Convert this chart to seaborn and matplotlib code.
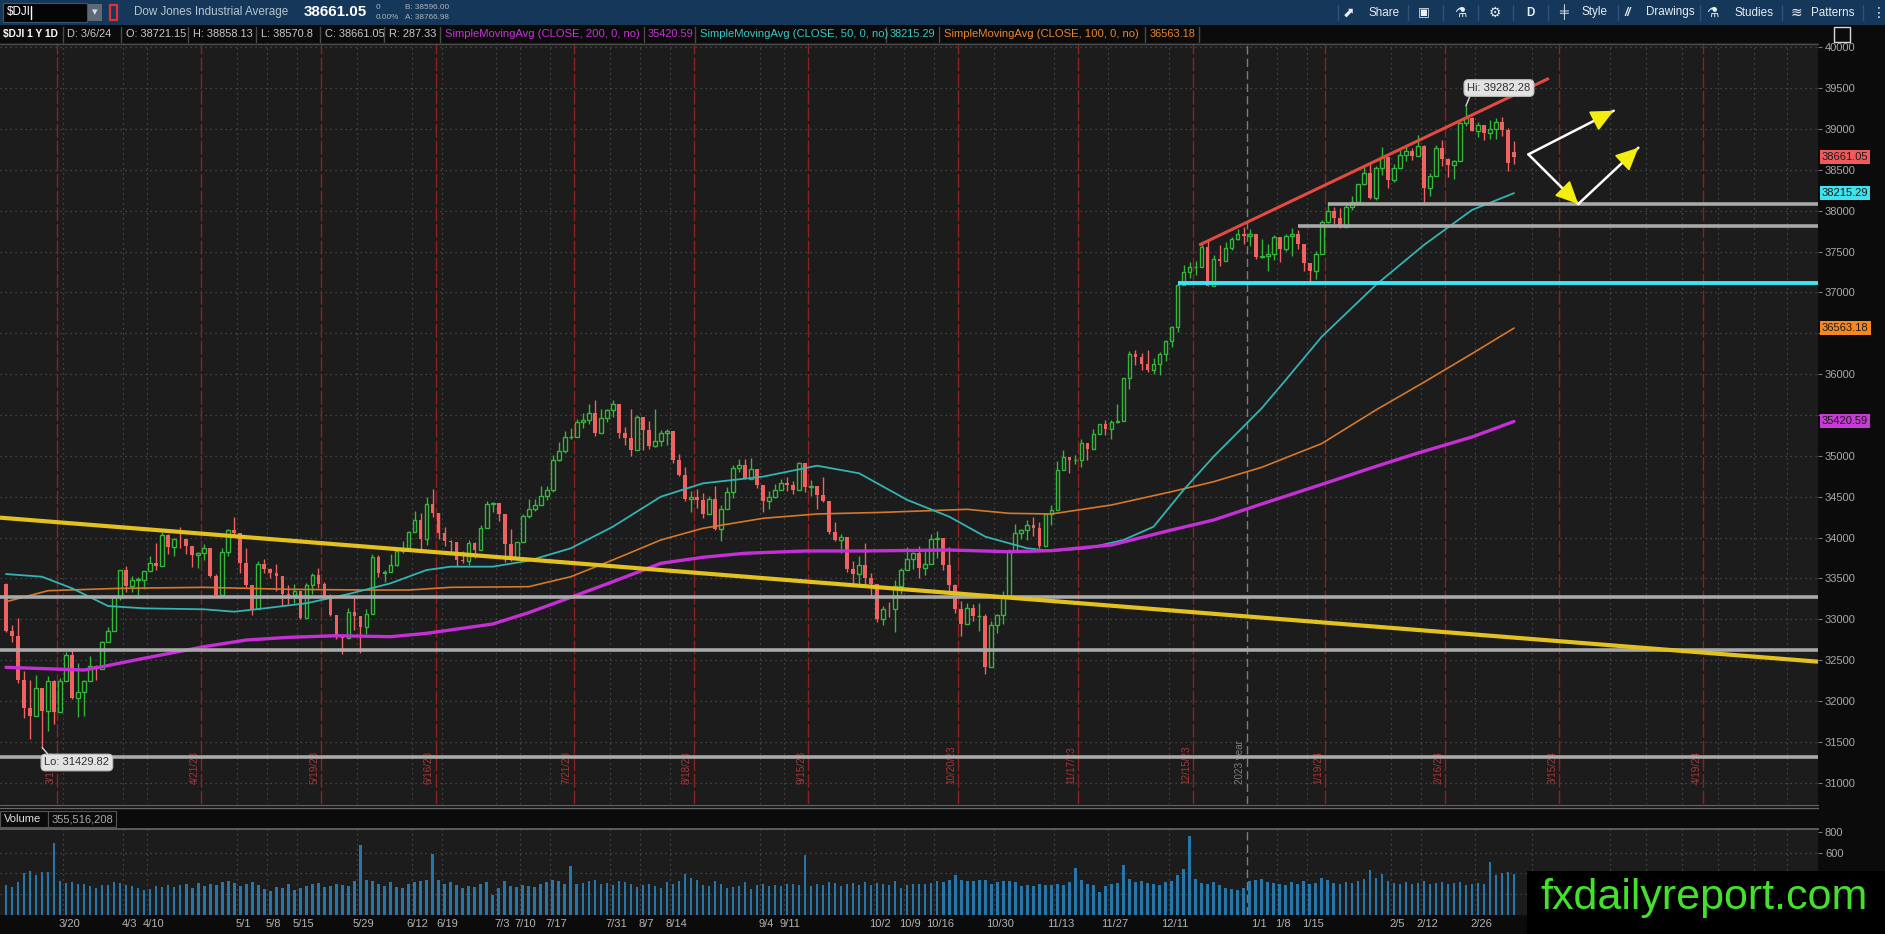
import matplotlib
matplotlib.use("Agg")
import numpy as np
import matplotlib.pyplot as plt
import matplotlib.transforms as mtransforms
from matplotlib.patches import Rectangle
from matplotlib.lines import Line2D
from matplotlib import font_manager
import seaborn as sns

# ---------------------------------------------------------------- data
# daily bars 3/7/2023 .. 3/6/2024 (bar index 0 .. 251), grouped by week
closes = [
    32856, 32798, 32254, 31909,
    31819, 32155, 31875, 32247, 31862,
    32245, 32561, 32030, 32105, 32238,
    32432, 32394, 32717, 32860, 33274,
    33601, 33403, 33483, 33485,
    33587, 33685, 33646, 34030, 33886,
    33987, 33977, 33897, 33787, 33809,
    33876, 33531, 33302, 33827, 34098,
    34051, 33685, 33414, 33128, 33675,
    33619, 33562, 33531, 33310, 33301,
    33349, 33013, 33421, 33536, 33427,
    33287, 33056, 32800, 32765, 33093,
    33043, 32908, 33061, 33763,
    33563, 33573, 33665, 33834, 33877,
    34067, 34212, 33979, 34408, 34299,
    34054, 33952, 33947, 33727,
    33715, 33927, 33853, 34122, 34408,
    34418, 34288, 33922, 33735,
    33944, 34262, 34348, 34395, 34509,
    34586, 34952, 35061, 35225, 35228,
    35411, 35438, 35520, 35282, 35459,
    35560, 35630, 35283, 35216, 35066,
    35474, 35314, 35123, 35177, 35281,
    35308, 34946, 34766, 34475, 34501,
    34464, 34289, 34473, 34100, 34347,
    34560, 34853, 34891, 34722, 34838,
    34642, 34443, 34501, 34577,
    34664, 34646, 34576, 34908, 34619,
    34625, 34518, 34441, 34071, 33964,
    34007, 33619, 33551, 33667, 33508,
    33433, 33002, 33130, 33120, 33408,
    33605, 33740, 33805, 33631, 33671,
    33985, 33998, 33665, 33415, 33127,
    32937, 33141, 33036, 33036, 32418,
    32929, 33053, 33275, 33840, 34061,
    34096, 34153, 34112, 33892, 34283,
    34338, 34828, 34991, 34945, 34947,
    35151, 35089, 35273, 35390,
    35333, 35417, 35430, 35951, 36246,
    36204, 36125, 36055, 36118, 36248,
    36405, 36578, 37090, 37248, 37306,
    37306, 37558, 37083, 37405, 37386,
    37545, 37657, 37710, 37690,
    37715, 37430, 37440, 37466,
    37683, 37526, 37696, 37711, 37593,
    37361, 37267, 37469, 37864,
    38001, 37906, 37806, 38050, 38109,
    38333, 38467, 38150, 38520, 38654,
    38380, 38521, 38677, 38726, 38671,
    38797, 38273, 38424, 38773, 38628,
    38564, 38612, 39069, 39131,
    38979, 39053, 38949, 38996, 39087,
    38990, 38585, 38661.05,
]
highs = [
    33441, 32932, 33017, 32361,
    32259, 32321, 32078, 32301, 32259,
    32280, 32595, 32633, 32464, 32255,
    32544, 32437, 32737, 32904, 33275,
    33606, 33652, 33529, 33518,
    33596, 33773, 33932, 34071, 34045,
    33996, 34125, 33954, 33890, 33827,
    33926, 33803, 33558, 33874, 34104,
    34257, 33999, 33872, 33409, 33718,
    33733, 33632, 33674, 33475, 33424,
    33432, 33255, 33448, 33565, 33621,
    33456, 33306, 33018, 32809, 33138,
    33280, 32980, 33130, 33792,
    33785, 33598, 33794, 33855, 33962,
    34079, 34319, 34299, 34498, 34589,
    34237, 34127, 33972, 33882,
    33836, 33968, 33950, 34151, 34451,
    34440, 34413, 34172, 34106,
    33951, 34282, 34470, 34475, 34631,
    34636, 35010, 35175, 35300, 35344,
    35454, 35530, 35630, 35679, 35578,
    35570, 35679, 35500, 35357, 35576,
    35502, 35373, 35432, 35579, 35313,
    35332, 35203, 35025, 34859, 34570,
    34596, 34550, 34514, 34635, 34393,
    34624, 34886, 34957, 34967, 34979,
    34818, 34625, 34566, 34660,
    34720, 34736, 34689, 34926, 34881,
    34705, 34600, 34746, 34394, 34192,
    34041, 33906, 33708, 33768, 33928,
    33567, 33369, 33159, 33214, 33479,
    33622, 33886, 33828, 33894, 33842,
    34044, 34079, 33999, 33878, 33431,
    33220, 33201, 33192, 33197, 33058,
    32980, 33069, 33347, 33854, 34165,
    34109, 34213, 34250, 34187, 34299,
    34392, 34938, 35070, 34988, 35014,
    35205, 35151, 35330, 35393,
    35438, 35433, 35640, 35953, 36282,
    36295, 36263, 36300, 36197, 36266,
    36416, 36583, 37104, 37331, 37374,
    37386, 37590, 37641, 37461, 37581,
    37617, 37683, 37778, 37802,
    37774, 37654, 37650, 37590,
    37697, 37631, 37718, 37790, 37768,
    37527, 37360, 37511, 37891,
    38109, 38043, 38033, 38096, 38175,
    38333, 38562, 38571, 38543, 38783,
    38624, 38570, 38748, 38796, 38773,
    38925, 38799, 38466, 38806, 38866,
    38642, 38617, 39088, 39282.28,
    39150, 39092, 39016, 39106, 39131,
    39143, 39007, 38858.13,
]
lows = [
    32838, 32720, 32213, 31796,
    31529, 31915, 31429.82, 31632, 31714,
    31880, 32270, 32020, 31806, 31820,
    32250, 32252, 32464, 32740, 32880,
    33240, 33338, 33330, 33298,
    33371, 33590, 33604, 33664, 33792,
    33779, 33867, 33800, 33637, 33625,
    33729, 33516, 33283, 33391, 33773,
    34018, 33570, 33395, 33047, 33295,
    33560, 33507, 33344, 33160, 33180,
    33201, 33001, 33017, 33313, 33388,
    33262, 33044, 32753, 32580, 32766,
    32863, 32586, 32822, 33130,
    33520, 33450, 33586, 33647, 33813,
    33888, 34063, 33853, 33912, 34253,
    33980, 33898, 33800, 33650,
    33686, 33663, 33746, 33857, 34178,
    34317, 34201, 33702, 33713,
    33745, 33957, 34233, 34320, 34400,
    34464, 34562, 34940, 35039, 35205,
    35230, 35335, 35391, 35237, 35302,
    35412, 35480, 35218, 35138, 35002,
    35094, 35066, 35084, 35105, 35122,
    35138, 34906, 34751, 34449, 34309,
    34358, 34241, 34311, 34090, 33962,
    34395, 34484, 34805, 34720, 34734,
    34601, 34318, 34343, 34478,
    34594, 34575, 34529, 34662, 34560,
    34510, 34352, 34438, 34040, 33953,
    33813, 33583, 33416, 33422, 33400,
    33275, 32961, 32933, 33021, 32847,
    33310, 33602, 33613, 33509, 33539,
    33735, 33752, 33601, 33350, 33073,
    32800, 32937, 32976, 32860, 32327,
    32489, 32826, 32947, 33324, 33879,
    33981, 33972, 34019, 33866, 33914,
    34151, 34596, 34830, 34794, 34903,
    34862, 34945, 35108, 35272,
    35259, 35203, 35398, 35535, 35820,
    36111, 36053, 36030, 36001, 35993,
    36161, 36331, 36520, 37108, 37181,
    37216, 37330, 37077, 37200, 37319,
    37392, 37515, 37643, 37592,
    37570, 37410, 37424, 37260,
    37398, 37373, 37503, 37440, 37526,
    37265, 37122, 37170, 37466,
    37847, 37839, 37784, 37841, 38006,
    38068, 38313, 38147, 38129, 38440,
    38283, 38355, 38528, 38604, 38626,
    38699, 38108, 38182, 38420, 38552,
    38408, 38390, 38727, 39043,
    38975, 38900, 38863, 38872, 38872,
    38919, 38487, 38570.8,
]
first_open = 33430.0       # open of the first bar
last_open = 38721.15       # open of the last bar (header "O:")
volumes = [  # millions
    290, 270, 320, 400,
    420, 380, 410, 410, 690,
    330, 310, 320, 300, 300,
    280, 260, 290, 290, 320,
    310, 290, 280, 260,
    240, 250, 280, 270, 290,
    270, 290, 300, 260, 310,
    280, 300, 290, 320, 330,
    310, 280, 300, 320, 290,
    250, 230, 270, 260, 300,
    240, 260, 280, 300, 310,
    270, 280, 300, 290, 280,
    330, 670, 340, 330,
    300, 280, 320, 270, 260,
    300, 320, 330, 340, 590,
    340, 300, 320, 290,
    260, 280, 270, 300, 320,
    190, 260, 330, 280,
    270, 290, 280, 270, 300,
    320, 340, 330, 300, 470,
    300, 310, 330, 340, 300,
    310, 290, 330, 320, 300,
    270, 290, 300, 280, 260,
    320, 300, 330, 390, 360,
    340, 290, 280, 330, 300,
    260, 270, 280, 320, 250,
    290, 300, 280, 290,
    280, 300, 300, 290, 575,
    280, 300, 290, 320, 310,
    280, 300, 310, 290, 320,
    290, 310, 300, 290, 330,
    260, 290, 300, 300, 300,
    310, 330, 320, 340, 380,
    340, 330, 330, 340, 340,
    300, 320, 330, 330, 320,
    280, 290, 280, 300, 290,
    290, 300, 290, 320, 450,
    340, 300, 290, 220,
    280, 300, 310, 480, 350,
    320, 330, 310, 300, 290,
    320, 330, 380, 440, 757,
    350, 310, 300, 320, 290,
    260, 250, 240, 260,
    330, 340, 350, 320,
    310, 300, 290, 320, 300,
    330, 300, 310, 360,
    340, 310, 300, 320, 310,
    330, 350, 430, 360, 390,
    330, 310, 300, 320, 300,
    310, 330, 300, 310, 320,
    300, 310, 320, 290,
    300, 310, 300, 510, 380,
    400, 410, 390,
]
# moving averages (bar index, value)
ma50_x = [0, 6, 11, 17, 23, 33, 38, 43, 50, 57, 64, 70, 74, 81, 87, 94, 101, 109, 116, 126,
          135, 142, 150, 157, 163, 170, 174, 180, 186, 191, 196, 201, 209, 213, 219, 228, 236, 244, 251]
ma50_y = [33553, 33520, 33378, 33161, 33133, 33121, 33092, 33133, 33195, 33308, 33439, 33602, 33643,
          33643, 33716, 33868, 34132, 34500, 34663, 34745, 34879, 34786, 34460, 34255, 34010, 33868,
          33835, 33868, 33970, 34132, 34582, 34990, 35582, 35928, 36458, 37091, 37580, 38009, 38215.29]
ma100_x = [0, 7, 19, 33, 47, 60, 67, 74, 87, 94, 101, 109, 116, 126, 135, 146, 160, 167, 174, 184,
           194, 201, 209, 219, 228, 236, 244, 251]
ma100_y = [33214, 33349, 33378, 33390, 33366, 33357, 33357, 33390, 33398, 33520, 33725, 33970, 34113,
           34235, 34288, 34308, 34345, 34296, 34288, 34398, 34561, 34683, 34859, 35150, 35560, 35900,
           36250, 36563.18]
ma200_x = [0, 13, 16, 23, 33, 40, 47, 55, 64, 70, 81, 87, 94, 101, 109, 116, 123, 133, 143, 157,
           167, 174, 184, 194, 201, 209, 219, 228, 235, 244, 251]
ma200_y = [32411, 32378, 32419, 32522, 32664, 32745, 32778, 32798, 32786, 32827, 32941, 33080, 33268,
           33459, 33684, 33758, 33807, 33835, 33835, 33847, 33826, 33839, 33908, 34092, 34214, 34410,
           34650, 34870, 35034, 35230, 35420.59]

# week labels on the time axis (bar index of the week's first bar)
week_idx = [9, 19, 23, 38, 43, 48, 58, 67, 72, 81, 85, 90, 100, 105, 110, 125, 129, 144, 149, 154,
            164, 174, 183, 193, 207, 211, 216, 230, 235, 244]
week_lbl = ["3/20", "4/3", "4/10", "5/1", "5/8", "5/15", "5/29", "6/12", "6/19", "7/3", "7/10",
            "7/17", "7/31", "8/7", "8/14", "9/4", "9/11", "10/2", "10/9", "10/16", "10/30", "11/13",
            "11/27", "12/11", "1/1", "1/8", "1/15", "2/5", "2/12", "2/26"]
future_grid_idx = [254, 267, 273, 279, 285, 291, 296.5]
# monthly expiration markers
exp_idx = [8, 32, 52, 71, 94, 114, 133, 158, 178, 197, 219, 239, 258, 282]
exp_lbl = ["3/17/23", "4/21/23", "5/19/23", "6/16/23", "7/21/23", "8/18/23", "9/15/23", "10/20/23",
           "11/17/23", "12/15/23", "1/19/24", "2/16/24", "3/15/24", "4/19/24"]
year_idx = 206.5
year_lbl = "2023 year"

# drawings
gray_full_levels = [33268, 32623, 31310]
gray_part_start = [220, 215]
gray_part_levels = [38079, 37812]
cyan_start, cyan_level = 195, 37111
yellow_x, yellow_y = [-1, 301.6], [34243, 32480]
red_x, red_y = [198.6, 256.8], [37580, 39620]
arrow_a = (253.4, 38690)
arrow_b = (267.6, 39224)
arrow_c = (261.7, 38082)
arrow_d = (271.7, 38771)
price_ticks = list(range(31000, 40001, 500))
price_hidden = [35500, 36500]          # covered by the MA value boxes
vol_ticks = [200, 400, 600, 800]
vol_shown = [600, 800]                 # lower ones sit under the watermark

# ---------------------------------------------------------------- style
sns.set_theme(style="dark")
avail = {f.name for f in font_manager.fontManager.ttflist}
if "Liberation Sans Narrow" in avail:
    NARROW, K = "Liberation Sans Narrow", 1.0
else:
    NARROW, K = "Liberation Sans", 0.84
plt.rcParams["font.family"] = [NARROW, "DejaVu Sans"]
plt.rcParams["axes.unicode_minus"] = False


def fs(s):
    return s * K


W, H = 1885, 934
PR = 1818
BG = "#1c1c1c"
GRID = "#505050"
GREEN = "#35b53a"
RED = "#f06262"

fig = plt.figure(figsize=(W / 100, H / 100), dpi=100)
fig.patch.set_facecolor("#0b0b0b")


def R(x0, y0, x1, y1, fc, ec="none", lw=0.0, z=0.5):
    fig.add_artist(Rectangle((x0 / W, 1 - y1 / H), (x1 - x0) / W, (y1 - y0) / H,
                             transform=fig.transFigure, facecolor=fc, edgecolor=ec,
                             linewidth=lw, zorder=z))


def T(x, y, s, **kw):
    kw.setdefault("va", "center")
    kw.setdefault("ha", "left")
    return fig.text(x / W, 1 - y / H, s, **kw)


def L(x0, y0, x1, y1, color, lw=1.0, z=1):
    fig.add_artist(Line2D([x0 / W, x1 / W], [1 - y0 / H, 1 - y1 / H],
                          transform=fig.transFigure, color=color, lw=lw, zorder=z))


n = len(closes)
x = np.arange(n)
c = np.array(closes, dtype=float)
o = np.concatenate([[first_open], c[:-1]])
o[-1] = last_open
h = np.maximum(np.array(highs, dtype=float), np.maximum(o, c))
l = np.minimum(np.array(lows, dtype=float), np.minimum(o, c))
up = c >= o
XL = (-1, 301.6)

# ---------------------------------------------------------------- price pane
axp = fig.add_axes([0, 1 - 804 / H, PR / W, (804 - 43) / H])
axp.set_facecolor(BG)
axp.grid(False)

for p in price_ticks:
    axp.axhline(p, color=GRID, lw=0.9, ls=(0, (1, 3)), zorder=1)
grid_x = [i + 0.5 for i in week_idx if i != 207] + future_grid_idx
for g in grid_x:
    axp.axvline(g, color=GRID, lw=0.9, ls=(0, (1, 3)), zorder=1)
for i, lab in zip(exp_idx, exp_lbl):
    axp.axvline(i + 0.5, color="#8e1f1f", lw=1.0, ls=(0, (10, 2)), zorder=1.5)
    axp.text(i + 0.2, 30985, lab, rotation=90, ha="right", va="bottom",
             color="#a83636", fontsize=fs(8.5), zorder=2)
axp.axvline(year_idx, color="#7c7c7c", lw=1.0, ls=(0, (6, 3)), zorder=1.5)
axp.text(year_idx - 0.3, 30985, year_lbl, rotation=90, ha="right", va="bottom",
         color="#7f7f7f", fontsize=fs(8.5), zorder=2)

# candles
body_up = np.maximum(c[up] - o[up], 6)
body_dn = np.maximum(o[~up] - c[~up], 6)
axp.vlines(x[up], l[up], h[up], color=GREEN, lw=1.0, zorder=3)
axp.vlines(x[~up], l[~up], h[~up], color=RED, lw=1.0, zorder=3)
axp.bar(x[up], body_up, bottom=o[up], width=0.62, facecolor=BG, edgecolor=GREEN,
        linewidth=1.0, zorder=4)
axp.bar(x[~up], body_dn, bottom=c[~up], width=0.62, color=RED, linewidth=0, zorder=4)

# moving averages
sns.lineplot(x=ma100_x, y=ma100_y, ax=axp, color="#d4782c", lw=1.2, legend=False, zorder=4.5)
sns.lineplot(x=ma50_x, y=ma50_y, ax=axp, color="#33b3b3", lw=1.3, legend=False, zorder=4.6)
sns.lineplot(x=ma200_x, y=ma200_y, ax=axp, color="#c52fd6", lw=2.4, legend=False, zorder=4.7)

# drawings
for p in gray_full_levels:
    axp.hlines(p, XL[0], XL[1], color="#a9a9a9", lw=2.6, zorder=5)
for s, p in zip(gray_part_start, gray_part_levels):
    axp.hlines(p, s, XL[1], color="#a9a9a9", lw=2.6, zorder=5)
axp.hlines(cyan_level, cyan_start, XL[1], color="#3fe4f2", lw=2.8, zorder=5)
axp.plot(yellow_x, yellow_y, color="#e3c11e", lw=3.0, zorder=5.2, solid_capstyle="butt")
axp.plot(red_x, red_y, color="#e24a42", lw=2.2, zorder=5.2, solid_capstyle="butt")


def arrow(a, b):
    axp.plot([a[0], b[0]], [a[1], b[1]], color="white", lw=1.8, zorder=6)
    t = (b[0] - 0.22 * (b[0] - a[0]), b[1] - 0.22 * (b[1] - a[1]))
    axp.annotate("", xy=b, xytext=t, zorder=6.5,
                 arrowprops=dict(arrowstyle="-|>,head_length=0.95,head_width=0.45",
                                 mutation_scale=15, fc="#f4ee10", ec="#f4ee10", lw=1.2,
                                 shrinkA=0, shrinkB=0))


arrow(arrow_a, arrow_b)
arrow(arrow_a, arrow_c)
arrow(arrow_c, arrow_d)

axp.annotate("Hi: 39282.28", xy=(243, 39282.28), xytext=(248.5, 39502), ha="center", va="center",
             fontsize=fs(9.5), color="#303030", zorder=7,
             bbox=dict(boxstyle="round,pad=0.3,rounding_size=0.4", fc="#e2e2e2", ec="#c0c0c0", lw=0.8),
             arrowprops=dict(arrowstyle="-", color="#d8d8d8", lw=1, shrinkA=0, shrinkB=0, relpos=(0.06, 0)))
axp.annotate("Lo: 31429.82", xy=(6, 31429.82), xytext=(11.8, 31246), ha="center", va="center",
             fontsize=fs(9.5), color="#303030", zorder=7,
             bbox=dict(boxstyle="round,pad=0.3,rounding_size=0.4", fc="#e2e2e2", ec="#c0c0c0", lw=0.8),
             arrowprops=dict(arrowstyle="-", color="#d8d8d8", lw=1, shrinkA=0, shrinkB=0, relpos=(0.1, 1)))

axp.set_xlim(*XL)
axp.set_ylim(30738, 40053)
axp.set_xlabel("")
axp.set_ylabel("")
axp.set_xticks([])
axp.yaxis.tick_right()
axp.set_yticks(price_ticks)
axp.set_yticklabels(["" if p in price_hidden else str(p) for p in price_ticks])
axp.tick_params(axis="y", length=3, width=0.8, color="#777777", pad=2,
                labelsize=fs(9.5), labelcolor="#a9a9a9")
for s in axp.spines.values():
    s.set_visible(False)

bt = mtransforms.blended_transform_factory(axp.transAxes, axp.transData)
for val, fcol in [(38661.05, "#f05a5a"), (38215.29, "#3ee3ef"),
                  (36563.18, "#f5891f"), (35420.59, "#c63ad6")]:
    axp.text(1 + 4 / PR, val, f"{val:.2f}", transform=bt, ha="left", va="center",
             fontsize=fs(9.5), color="#1a1a1a", clip_on=False, zorder=8,
             bbox=dict(boxstyle="square,pad=0.18", fc=fcol, ec="none"))

# ---------------------------------------------------------------- volume pane
axv = fig.add_axes([0, 1 - 915 / H, PR / W, (915 - 829) / H])
axv.set_facecolor(BG)
axv.grid(False)
for v in vol_ticks[:-1]:
    axv.axhline(v, color=GRID, lw=0.9, ls=(0, (1, 3)), zorder=1)
for g in grid_x:
    axv.axvline(g, color=GRID, lw=0.9, ls=(0, (1, 3)), zorder=1)
axv.axvline(year_idx, color="#7c7c7c", lw=1.0, ls=(0, (6, 3)), zorder=1)
axv.bar(x, volumes, width=0.42, color="#2676aa", linewidth=0, zorder=3)
axv.set_xlim(*XL)
axv.set_ylim(0, 826)
axv.yaxis.tick_right()
axv.set_yticks(vol_ticks)
axv.set_yticklabels([str(v) if v in vol_shown else "" for v in vol_ticks])
axv.tick_params(axis="y", length=3, width=0.8, color="#777777", pad=2,
                labelsize=fs(9.5), labelcolor="#a9a9a9")
axv.set_xticks([i + 1.5 for i in week_idx])
axv.set_xticklabels(week_lbl)
axv.tick_params(axis="x", length=0, pad=3, labelsize=fs(9.5), labelcolor="#b3b3b3")
for k, s in axv.spines.items():
    s.set_visible(k == "top")
axv.spines["top"].set_color("#666666")

# pane separators + volume header
L(0, 44, PR, 44, "#4a4a4a", 1)
L(0, 805, PR, 805, "#666666", 1)
L(0, 808, PR, 808, "#666666", 1)
R(0, 811, 48, 827, "#0b0b0b", ec="#555555", lw=0.8)
T(4, 819, "Volume", color="#e0e0e0", fontsize=fs(9.5))
R(48, 811, 116, 827, "#0b0b0b", ec="#555555", lw=0.8)
T(52, 819, "355,516,208", color="#a9a9a9", fontsize=fs(9.5))

# ---------------------------------------------------------------- top toolbar
R(0, 0, W, 25, "#15385a")
R(3, 3, 87, 22, "#050505", ec="#3a5670", lw=0.8, z=0.6)
T(7, 12.5, "$DJI", color="white", fontsize=fs(10), zorder=1)
L(31, 6, 31, 19, "white", 1, z=1)
R(88, 4, 102, 21, "#5d6b78", z=0.6)
T(95, 12.5, "▾", ha="center", color="#dddddd", fontsize=8, zorder=1)
R(110, 5, 117, 20, "none", ec="#e03030", lw=1.6, z=0.6)
T(134, 12.5, "Dow Jones Industrial Average", color="#b8c4cf", fontsize=fs(10))
T(304, 12.5, "38661.05", color="white", fontsize=fs(13), weight="bold")
T(376, 7.5, "0", color="#aab4be", fontsize=fs(7))
T(376, 17.5, "0.00%", color="#aab4be", fontsize=fs(7))
T(405, 7.5, "B: 38596.00", color="#aab4be", fontsize=fs(7))
T(405, 17.5, "A: 38766.98", color="#aab4be", fontsize=fs(7))
tb = "#e6edf3"
T(1349, 12.5, "⬈", color=tb, fontsize=10, ha="center")
T(1368, 12.5, "Share", color=tb, fontsize=fs(10))
T(1424, 12.5, "▣", color=tb, fontsize=9, ha="center")
T(1460, 12.5, "⚗", color=tb, fontsize=10, ha="center")
T(1495, 12.5, "⚙", color=tb, fontsize=10, ha="center")
T(1530, 12.5, "D", color=tb, fontsize=fs(10), ha="center", weight="bold")
T(1564, 12.5, "╪", color=tb, fontsize=9, ha="center")
T(1581, 12.5, "Style", color=tb, fontsize=fs(10))
T(1628, 12.5, "//", color=tb, fontsize=fs(10), ha="center", style="italic", weight="bold")
T(1646, 12.5, "Drawings", color=tb, fontsize=fs(10))
T(1712, 12.5, "⚗", color=tb, fontsize=10, ha="center")
T(1734, 12.5, "Studies", color=tb, fontsize=fs(10))
T(1796, 12.5, "≋", color=tb, fontsize=10, ha="center")
T(1811, 12.5, "Patterns", color=tb, fontsize=fs(10))
T(1879, 12.5, "⋮", color=tb, fontsize=10, ha="center")
for sx in [1338, 1408, 1443, 1478, 1513, 1548, 1618, 1700, 1782, 1863]:
    L(sx, 5, sx, 20, "#2c5478", 1, z=1)

# ---------------------------------------------------------------- header row
R(0, 25, W, 43, "#0b0b0b")
hdr = [
    (3, "$DJI 1 Y 1D", "#ffffff", "bold", 8.7),
    (67, "D: 3/6/24", "#c8c8c8", "normal", 9.4),
    (126, "O: 38721.15", "#c8c8c8", "normal", 9.4),
    (193, "H: 38858.13", "#c8c8c8", "normal", 9.4),
    (261, "L: 38570.8", "#c8c8c8", "normal", 9.4),
    (325, "C: 38661.05", "#c8c8c8", "normal", 9.4),
    (389, "R: 287.33", "#c8c8c8", "normal", 9.4),
    (445, "SimpleMovingAvg (CLOSE, 200, 0, no)", "#c832d8", "normal", 9.6),
    (648, "35420.59", "#c832d8", "normal", 9.4),
    (700, "SimpleMovingAvg (CLOSE, 50, 0, no)", "#36c8c8", "normal", 9.6),
    (890, "38215.29", "#36c8c8", "normal", 9.4),
    (944, "SimpleMovingAvg (CLOSE, 100, 0, no)", "#e8862e", "normal", 9.6),
    (1150, "36563.18", "#e8862e", "normal", 9.4),
]
for hx, s, col, wgt, sz in hdr:
    T(hx, 34, s, color=col, fontsize=fs(sz), weight=wgt)
for sx in [63, 121, 188, 256, 320, 384, 440, 644, 695, 886, 939, 1145, 1199]:
    L(sx, 27, sx, 42, "#4a4a4a", 1)
R(1834, 27, 1850, 42, "none", ec="#d8d8d8", lw=1.0)

# ---------------------------------------------------------------- watermark
R(1527, 871, W, H, "#000000", z=10)
T(1704, 898, "fxdailyreport.com", ha="center", color="#44e12c", fontsize=31,
  family=["Liberation Sans", "DejaVu Sans"], zorder=11)

fig.savefig("out.png", dpi=100, facecolor=fig.get_facecolor())
